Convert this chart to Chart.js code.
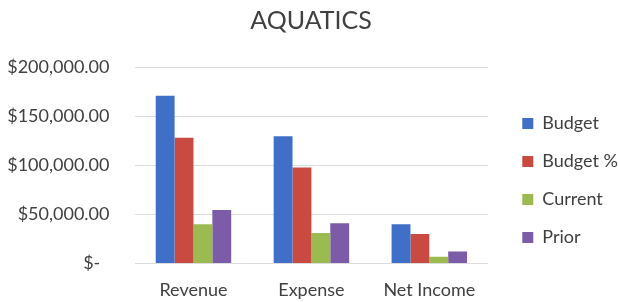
<!DOCTYPE html>
<html>
<head>
<meta charset="utf-8">
<script src="https://cdn.jsdelivr.net/npm/chart.js@4"></script>
<style>
  html, body { margin: 0; padding: 0; background: #fff; }
  #wrap { width: 618px; height: 302px; }
</style>
</head>
<body>
<div id="wrap"><canvas id="aquaticsChart"></canvas></div>
<script>
const categories = ['Revenue', 'Expense', 'Net Income'];
const budget = [170700, 129600, 39800];
const budgetPct = [128000, 97600, 29900];
const current = [39800, 31000, 6800];
const prior = [54400, 40800, 12200];
const yTicks = [0, 50000, 100000, 150000, 200000];

const textColor = '#404040';
const fontFamily = 'Lato, "Open Sans", sans-serif';
const yPad = 25;
const xPad = 16;

function money(v) {
    if (v === 0) return '$-  ';
    return '$' + v.toLocaleString('en-US', { minimumFractionDigits: 2, maximumFractionDigits: 2 });
}

// nudge the legend over to where Excel puts it
const legendShift = {
    id: 'legendShift',
    afterLayout(chart) {
        const lg = chart.legend;
        lg.left += 14; lg.right += 14;
        lg.top += 30; lg.bottom += 30;
    }
};

const ctx = document.getElementById('aquaticsChart').getContext('2d');
const aquaticsChart = new Chart(ctx, {
    type: 'bar',
    data: {
        labels: categories,
        datasets: [
            { label: 'Budget', data: budget, backgroundColor: '#3f6fc6' },
            { label: 'Budget %', data: budgetPct, backgroundColor: '#c84a40' },
            { label: 'Current', data: current, backgroundColor: '#9bbb50' },
            { label: 'Prior', data: prior, backgroundColor: '#7c5ba9' }
        ]
    },
    options: {
        responsive: true,
        maintainAspectRatio: false,
        animation: false,
        layout: { padding: { left: 8, right: 4, top: 0, bottom: 1 } },
        datasets: {
            bar: { categoryPercentage: 0.64, barPercentage: 1.0, borderWidth: 0 }
        },
        plugins: {
            title: {
                display: true,
                text: 'AQUATICS',
                color: textColor,
                font: { family: fontFamily, size: 25, weight: 'normal' },
                padding: { top: 6, bottom: 31 }
            },
            legend: {
                position: 'right',
                labels: {
                    boxWidth: 11,
                    boxHeight: 11,
                    padding: 20,
                    color: textColor,
                    font: { family: fontFamily, size: 18 }
                }
            },
            tooltip: { enabled: false }
        },
        scales: {
            x: {
                grid: { display: false, drawTicks: false },
                border: { display: false },
                afterFit(scale) { scale.height -= xPad; },
                ticks: {
                    color: textColor,
                    padding: xPad,
                    font: { family: fontFamily, size: 18 }
                }
            },
            y: {
                min: yTicks[0],
                max: yTicks[yTicks.length - 1],
                afterBuildTicks(axis) {
                    axis.ticks = yTicks.map(v => ({ value: v }));
                },
                afterFit(scale) { scale.width -= yPad; },
                grid: { color: '#dcdcdc', drawTicks: false },
                border: { display: false },
                ticks: {
                    color: textColor,
                    padding: yPad,
                    font: { family: fontFamily, size: 18 },
                    callback: v => money(v)
                }
            }
        }
    },
    plugins: [legendShift]
});
</script>
</body>
</html>
